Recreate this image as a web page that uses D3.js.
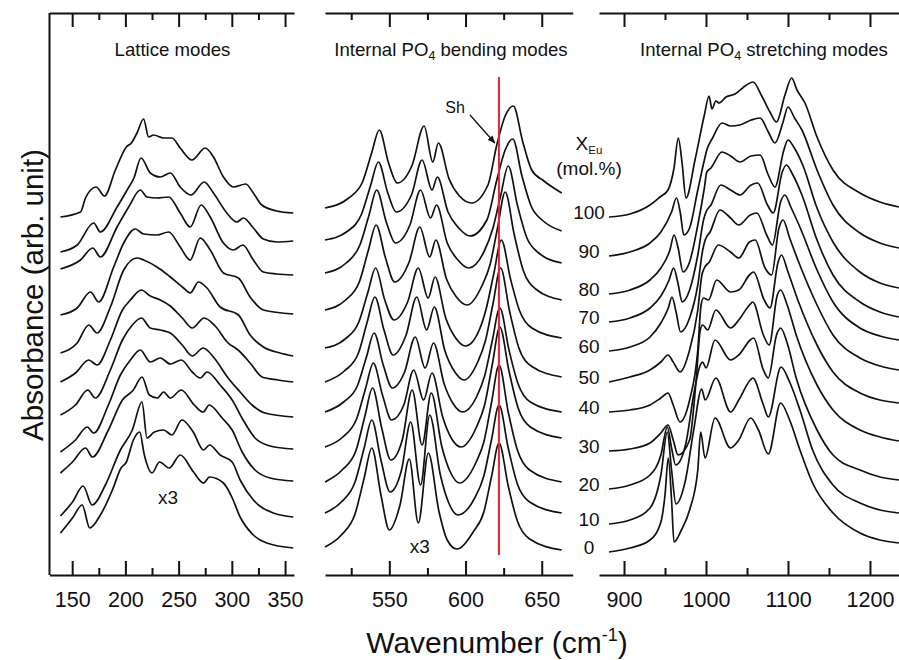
<!DOCTYPE html>
<html>
<head>
<meta charset="utf-8">
<script src="https://cdn.jsdelivr.net/npm/d3@7"></script>
<style>
  body { margin: 0; background: #fff; }
  text { font-family: "Liberation Sans", Arial, sans-serif; fill: #111; }
</style>
</head>
<body>
<svg id="chart" width="899" height="660"></svg>
<script>
// Eu content of each sample, top trace first
const compositions = [100, 90, 80, 70, 60, 50, 40, 30, 20, 10, 0];

const latticeTicks = [150, 200, 250, 300, 350];
const latticeMinor = [175, 225, 275, 325];
const bendingTicks = [550, 600, 650];
const bendingMinor = [525, 575, 625];
const stretchTicks = [900, 1000, 1100, 1200];
const stretchMinor = [950, 1050, 1150];

// position of the red marker line (cm-1)
const markerWn = 621.9;

// lattice modes, [wavenumber, absorbance (stacked, arb. unit)]
const latticeSpectra = [
  [[139,3.58],[157.8,3.63],[162.5,3.77],[172.5,3.88],[180.3,3.79],[190.6,4.05],[200.9,4.28],[205.6,4.32],[210.9,4.42],[217.1,4.56],[221.8,4.38],[226.5,4.40],[235.9,4.37],[243.7,4.37],[251.5,4.27],[262.5,4.15],[275,4.27],[282.7,4.18],[292.1,3.98],[301.5,3.88],[313.1,3.91],[320.2,3.82],[328.1,3.70],[342.2,3.64],[357.7,3.62]],
  [[139,3.23],[154.7,3.30],[170.2,3.52],[176.5,3.43],[192.2,3.68],[201.6,3.85],[208,3.97],[214.7,4.17],[223.4,4.02],[232.8,3.98],[242.2,4.02],[251.5,3.88],[261.6,3.80],[274,3.93],[282.7,3.82],[295.3,3.62],[304.7,3.53],[310.9,3.57],[320.2,3.47],[329.6,3.36],[342.2,3.33],[357.7,3.34]],
  [[139,3.06],[157.8,3.15],[169.3,3.27],[176.5,3.18],[192.2,3.48],[203.1,3.68],[214,3.85],[220.3,3.78],[229.7,3.77],[240.6,3.78],[251.5,3.62],[260.9,3.48],[271.2,3.70],[279.7,3.58],[292.1,3.32],[301.5,3.25],[310.3,3.30],[320.2,3.15],[329.6,3.03],[342.2,3.01],[357.7,3.00]],
  [[139,2.60],[154.7,2.67],[167.2,2.83],[174.9,2.73],[189,3.08],[198.4,3.32],[209.3,3.46],[217.1,3.41],[229.7,3.40],[240.6,3.43],[251.5,3.28],[260.9,3.15],[270.3,3.37],[279.7,3.25],[292.1,3.02],[306.2,2.97],[317.2,2.78],[329.6,2.65],[357.7,2.61]],
  [[139,2.22],[154.7,2.32],[165.6,2.50],[173.4,2.42],[185.9,2.68],[198.4,3.05],[210.9,3.17],[217.1,3.15],[229.7,3.08],[242.2,2.98],[254.6,2.87],[260.9,2.82],[268.7,2.93],[276.6,2.87],[289,2.68],[306.2,2.60],[317.2,2.40],[329.6,2.28],[345.3,2.22],[357.7,2.19]],
  [[139,1.93],[153.1,2.02],[165.6,2.15],[173.4,2.10],[185.9,2.35],[197.2,2.65],[204.7,2.75],[215,2.85],[223.4,2.79],[232.8,2.75],[242.2,2.69],[253.4,2.57],[262.8,2.47],[274,2.57],[284.3,2.49],[296.5,2.32],[305.9,2.25],[317.2,2.12],[328.4,1.98],[343.4,1.95],[357.7,1.93]],
  [[139,1.60],[153.1,1.70],[164.6,1.85],[171.8,1.77],[185.9,2.05],[197.2,2.35],[206.5,2.50],[215,2.57],[223.4,2.47],[232.8,2.45],[242.2,2.42],[253.4,2.30],[262.8,2.19],[273.1,2.27],[283.4,2.17],[296.5,1.97],[307.8,1.83],[319,1.70],[331.2,1.62],[357.7,1.58]],
  [[139,1.23],[153.1,1.35],[164.1,1.48],[170.2,1.42],[184,1.70],[195.3,2.00],[204.7,2.15],[214,2.25],[223.4,2.13],[232.8,2.17],[242.2,2.11],[252.5,2.15],[262.8,2.03],[270.3,1.97],[276.8,2.03],[289,1.90],[300.3,1.75],[310.6,1.55],[321.8,1.37],[335.9,1.29],[357.7,1.26]],
  [[139,1.02],[150.3,1.13],[162.5,1.27],[169,1.18],[184,1.45],[197.2,1.75],[207.5,1.85],[215.6,1.98],[222.5,1.80],[230,1.77],[235.9,1.83],[242.2,1.77],[252.5,1.85],[264.7,1.70],[273.1,1.63],[278.7,1.70],[290.9,1.57],[300.3,1.45],[309.7,1.23],[321.8,1.05],[335.9,0.97],[357.7,0.94]],
  [[139,0.59],[150.3,0.73],[160.3,0.89],[168.7,0.70],[181.2,0.90],[195.3,1.25],[206.5,1.45],[215.6,1.73],[220.3,1.37],[227.2,1.43],[235.9,1.45],[243.7,1.40],[253.1,1.55],[263.7,1.43],[273.4,1.25],[279,1.30],[289,1.20],[300.3,1.13],[307.8,0.95],[320.2,0.75],[339,0.62],[357.7,0.58]],
  [[139,0.42],[150.3,0.57],[159.4,0.70],[166.5,0.47],[176.5,0.60],[187.8,0.85],[195.9,1.07],[200.9,1.13],[207.5,1.35],[213.4,1.43],[217.8,1.20],[225,1.02],[232.1,1.13],[241.2,1.07],[251.5,1.20],[264,1.03],[273.4,0.92],[279,0.98],[292.1,0.92],[300,0.78],[307.8,0.58],[320.2,0.40],[332.8,0.32],[357.7,0.27]]
];

// internal PO4 bending modes
const bendingSpectra = [
  [[507.8,3.67],[523.4,3.77],[532.4,3.93],[538.4,4.22],[543.4,4.45],[549.5,4.12],[555.2,3.92],[565,4.10],[572.8,4.49],[578.5,4.13],[582.2,4.32],[589.2,3.96],[596,3.79],[604,3.72],[614.7,3.90],[620.5,4.30],[626,4.59],[631.4,4.69],[637.4,4.34],[643.4,4.05],[651.4,3.94],[663.1,3.82]],
  [[507.8,3.35],[522.8,3.44],[531.8,3.61],[537.8,3.90],[542.8,4.13],[549,3.82],[554.5,3.63],[564.5,3.80],[571.5,4.15],[578,3.85],[581.5,3.98],[588.5,3.63],[595.5,3.47],[603,3.39],[614,3.55],[620.5,3.95],[626,4.25],[631,4.36],[637,3.99],[643,3.69],[651,3.54],[663.1,3.44]],
  [[507.8,3.02],[521.7,3.12],[530.7,3.30],[536.7,3.60],[541.7,3.85],[548,3.53],[554,3.32],[563.5,3.50],[570.5,3.85],[577,3.57],[581,3.70],[588,3.32],[595,3.15],[602,3.07],[612,3.23],[618,3.47],[623,3.79],[628,4.09],[634,3.70],[640,3.38],[648,3.22],[663.1,3.12]],
  [[507.8,2.65],[521.3,2.75],[530.3,2.93],[536.3,3.25],[541.3,3.50],[547.5,3.17],[553.5,2.93],[563,3.13],[570,3.48],[576.5,3.18],[580.5,3.35],[587.5,2.96],[594,2.78],[601,2.70],[611,2.90],[616,3.10],[621,3.47],[626,3.83],[632,3.40],[638,3.04],[646,2.86],[663.1,2.75]],
  [[507.8,2.27],[521,2.36],[530,2.53],[536,2.83],[541,3.07],[547,2.75],[553,2.55],[562,2.73],[569,3.07],[575.5,2.77],[580,2.98],[587,2.57],[593.5,2.37],[600,2.29],[609,2.45],[613.5,2.66],[618.5,3.01],[623.5,3.35],[629.5,2.96],[635.5,2.64],[643.5,2.47],[663.1,2.37]],
  [[507.8,1.93],[520.5,2.04],[529.5,2.21],[535.5,2.53],[540.5,2.78],[546.5,2.45],[552.5,2.20],[561,2.40],[568,2.78],[574.5,2.45],[579.5,2.68],[586.5,2.24],[593,2.03],[599,1.95],[608,2.13],[613,2.34],[618,2.71],[623,3.07],[629,2.63],[635,2.27],[643,2.09],[663.1,1.98]],
  [[507.8,1.63],[520,1.73],[529,1.89],[535,2.18],[540,2.42],[546,2.10],[552,1.87],[560,2.03],[567,2.38],[573.5,2.07],[579,2.32],[586,1.91],[592,1.71],[598,1.63],[607.5,1.79],[612.5,1.99],[617.5,2.34],[622.5,2.67],[628.5,2.25],[634.5,1.91],[642.5,1.73],[663.1,1.63]],
  [[507.8,1.28],[519.5,1.38],[528.5,1.56],[534.5,1.87],[539.5,2.12],[545.5,1.80],[551.5,1.55],[559.5,1.70],[566,2.05],[572.5,1.75],[578,2.02],[585,1.58],[591,1.36],[597,1.28],[607.5,1.49],[612.5,1.70],[617.5,2.10],[622.5,2.48],[628.5,2.04],[634.5,1.67],[642.5,1.48],[663.1,1.37]],
  [[507.8,0.93],[519,1.05],[528,1.24],[534,1.59],[539,1.87],[545,1.47],[551,1.15],[558.5,1.35],[565,1.85],[571.5,1.30],[577.5,1.82],[584.5,1.28],[590,1.03],[596,0.92],[607,1.13],[612,1.33],[617,1.72],[622,2.10],[628,1.63],[634,1.25],[642,1.05],[663.1,0.93]],
  [[507.8,0.62],[518.5,0.73],[527.5,0.93],[533.5,1.27],[538.5,1.55],[544.5,1.15],[550.5,0.83],[558,1.05],[564,1.53],[570.5,0.90],[576.5,1.60],[583.5,1.00],[589,0.72],[595,0.60],[606,0.77],[612,0.99],[617,1.35],[622,1.70],[628,1.27],[634,0.91],[642,0.73],[663.1,0.62]],
  [[507.8,0.28],[518.5,0.40],[527.5,0.61],[533.5,0.97],[538.5,1.27],[544.5,0.80],[550,0.45],[557,0.70],[563.1,1.16],[569,0.52],[575.6,1.22],[582.5,0.64],[588,0.35],[594.2,0.26],[605,0.43],[612,0.63],[617,0.98],[622,1.32],[628,0.89],[634,0.54],[642,0.36],[663.1,0.25]]
];

// internal PO4 stretching modes
const stretchSpectra = [
  [[881.7,3.58],[907.3,3.61],[931.7,3.70],[943.9,3.78],[953.7,3.85],[961,4.07],[966.2,4.37],[970.7,4.13],[975.6,3.77],[986.6,4.15],[998,4.60],[1003.7,4.79],[1007.3,4.66],[1012,4.74],[1016,4.72],[1024.4,4.78],[1035.4,4.81],[1047.6,4.89],[1057.3,4.93],[1068,4.79],[1078,4.63],[1086,4.53],[1096.3,4.80],[1104.5,4.97],[1111,4.85],[1120.7,4.72],[1135.4,4.38],[1154.9,4.05],[1187.8,3.82],[1212.2,3.73],[1235.4,3.68]],
  [[881.7,3.19],[907.3,3.23],[931.7,3.32],[945,3.43],[958,3.63],[964,3.77],[968.5,3.63],[973,3.40],[980,3.47],[990,3.85],[998,4.15],[1001,4.25],[1008,4.37],[1019.5,4.52],[1030,4.49],[1041.5,4.50],[1055,4.55],[1065.9,4.57],[1076,4.43],[1084.1,4.32],[1094,4.53],[1100,4.68],[1108,4.57],[1117,4.45],[1135.4,4.05],[1154.9,3.70],[1187.8,3.42],[1212.2,3.32],[1235.4,3.27]],
  [[881.7,2.81],[907.3,2.85],[931.7,2.95],[945,3.07],[956,3.25],[961,3.40],[966,3.27],[972,3.03],[980,3.13],[990,3.50],[998,3.87],[1001,4.03],[1006,4.07],[1019.5,4.23],[1030,4.19],[1041.5,4.13],[1055,4.19],[1065.9,4.20],[1076,4.00],[1084.1,3.88],[1095,4.25],[1100,4.35],[1107,4.28],[1118,4.10],[1135.4,3.67],[1154.9,3.33],[1187.8,3.03],[1212.2,2.92],[1235.4,2.87]],
  [[881.7,2.53],[907.3,2.57],[931.7,2.67],[945,2.79],[955,2.95],[960.5,3.07],[965.5,2.93],[971,2.73],[980,2.85],[990,3.20],[997,3.55],[1000,3.63],[1006,3.70],[1018,3.90],[1030,3.85],[1041.5,3.80],[1055,3.90],[1063,3.92],[1075,3.70],[1082,3.62],[1093,4.03],[1098,4.10],[1106,4.00],[1117,3.80],[1135.4,3.35],[1154.9,3.00],[1187.8,2.73],[1212.2,2.63],[1235.4,2.58]],
  [[881.7,2.24],[907.3,2.28],[931.7,2.38],[945,2.52],[954,2.67],[958.5,2.78],[963.5,2.63],[969,2.43],[980,2.57],[990,2.90],[996,3.25],[999,3.35],[1005,3.43],[1017,3.65],[1030,3.57],[1040,3.50],[1054,3.60],[1062,3.62],[1074,3.40],[1081,3.30],[1091,3.73],[1096,3.80],[1104,3.67],[1115,3.47],[1135.4,3.05],[1154.9,2.73],[1187.8,2.47],[1212.2,2.39],[1235.4,2.35]],
  [[881.7,1.93],[907.3,1.98],[931.7,2.05],[945,2.13],[953.7,2.20],[960,2.13],[968.3,2.03],[980,2.25],[990,2.65],[995,3.00],[998,3.07],[1004,3.13],[1015,3.30],[1030,3.23],[1040,3.17],[1053,3.33],[1060,3.35],[1072,3.07],[1080,3.00],[1089,3.47],[1094,3.55],[1102,3.37],[1113,3.13],[1135.4,2.70],[1154.9,2.40],[1187.8,2.17],[1212.2,2.09],[1235.4,2.05]],
  [[881.7,1.63],[907.3,1.65],[931.7,1.70],[945,1.77],[953.7,1.82],[960,1.70],[968.3,1.53],[980,1.75],[990,2.25],[994,2.70],[997,2.77],[1003,2.75],[1013,2.95],[1030,2.83],[1040,2.85],[1053,3.00],[1058,3.03],[1071,2.75],[1078,2.67],[1088,3.13],[1092,3.20],[1100,3.03],[1112,2.75],[1135.4,2.30],[1154.9,2.03],[1187.8,1.82],[1212.2,1.75],[1235.4,1.72]],
  [[881.7,1.24],[907.3,1.26],[931.7,1.32],[945,1.42],[953.7,1.50],[960,1.35],[966,1.20],[980,1.35],[988,1.95],[993,2.45],[996,2.50],[1002,2.45],[1012,2.65],[1030,2.47],[1040,2.55],[1053,2.70],[1057,2.73],[1070,2.40],[1077,2.30],[1087,2.80],[1091,2.85],[1099,2.70],[1110,2.40],[1135.4,1.90],[1154.9,1.65],[1187.8,1.45],[1212.2,1.38],[1235.4,1.34]],
  [[881.7,0.86],[907.3,0.90],[931.7,1.00],[945,1.20],[952.8,1.48],[958,1.27],[963,1.10],[975,1.30],[986,1.85],[993,2.10],[996,2.13],[1000,2.07],[1011,2.35],[1030,2.15],[1040,2.20],[1054,2.35],[1058,2.37],[1070,2.05],[1076,1.97],[1086,2.40],[1091,2.47],[1099,2.32],[1110,1.97],[1135.4,1.45],[1154.9,1.20],[1187.8,1.05],[1212.2,0.98],[1235.4,0.95]],
  [[881.7,0.51],[907.3,0.55],[931.7,0.67],[945,1.00],[952.8,1.43],[958,1.05],[963.4,0.71],[975,0.95],[985,1.45],[994.7,1.86],[999,1.75],[1012,1.97],[1030,1.63],[1040,1.75],[1054,1.95],[1057,1.97],[1070,1.70],[1076,1.58],[1091.5,2.08],[1102,1.93],[1114.6,1.65],[1130,1.25],[1154.9,0.90],[1187.8,0.72],[1212.2,0.65],[1235.4,0.62]],
  [[881.7,0.23],[907.3,0.27],[931.7,0.35],[945,0.53],[950,0.80],[954,1.17],[958,0.75],[961,0.33],[970,0.45],[980,0.65],[990,1.05],[993.5,1.43],[998.8,1.17],[1011,1.57],[1030,1.27],[1040,1.35],[1054.5,1.57],[1064,1.45],[1076,1.21],[1091,1.72],[1102,1.55],[1114.6,1.25],[1130,0.92],[1154.9,0.62],[1187.8,0.42],[1212.2,0.35],[1235.4,0.32]]
];

const svg = d3.select("#chart");
const axisTop = 13, axisBottom = 575;

const y = d3.scaleLinear().domain([0, 5.75]).range([575, 0]);

const panels = [
  { spectra: latticeSpectra, domain: [128.7, 358.4], range: [49.5, 294], ticks: latticeTicks, minor: latticeMinor },
  { spectra: bendingSpectra, domain: [507.8, 670.3], range: [325, 572.7], ticks: bendingTicks, minor: bendingMinor },
  { spectra: stretchSpectra, domain: [869.5, 1235.4], range: [599, 899], ticks: stretchTicks, minor: stretchMinor }
];

panels.forEach(p => {
  p.x = d3.scaleLinear().domain(p.domain).range(p.range);
  const g = svg.append("g");

  const line = d3.line()
    .x(d => p.x(d[0]))
    .y(d => y(d[1]))
    .curve(d3.curveMonotoneX);

  g.append("g").selectAll("path")
    .data(p.spectra)
    .join("path")
    .attr("d", line)
    .attr("fill", "none")
    .attr("stroke", "#111")
    .attr("stroke-width", 1.7)
    .attr("stroke-linejoin", "round");

  // bottom axis, ticks pointing in
  const bottom = g.append("g")
    .attr("transform", `translate(0,${axisBottom})`)
    .call(d3.axisBottom(p.x).tickValues(p.ticks).tickFormat(d3.format("d"))
      .tickSizeInner(-14).tickSizeOuter(0).tickPadding(17));
  bottom.selectAll("text").attr("font-size", "21.5px").attr("fill", "#111")
    .style("font-family", "'Liberation Sans', Arial, sans-serif");
  g.append("g")
    .attr("transform", `translate(0,${axisBottom})`)
    .call(d3.axisBottom(p.x).tickValues(p.minor).tickSize(-7).tickFormat(""))
    .call(a => a.select(".domain").remove());

  // top axis mirror
  g.append("g")
    .attr("transform", `translate(0,${axisTop})`)
    .call(d3.axisTop(p.x).tickValues(p.ticks).tickSizeInner(-14).tickSizeOuter(0).tickFormat(""));
  g.append("g")
    .attr("transform", `translate(0,${axisTop})`)
    .call(d3.axisTop(p.x).tickValues(p.minor).tickSize(-7).tickFormat(""))
    .call(a => a.select(".domain").remove());

  g.selectAll(".domain, .tick line").attr("stroke", "#111").attr("stroke-width", 2);
});

// left axis line of the first panel
svg.append("line")
  .attr("x1", 49.5).attr("x2", 49.5)
  .attr("y1", axisTop).attr("y2", axisBottom)
  .attr("stroke", "#111").attr("stroke-width", 2);

// panel titles
function title(xc, label, sub, rest) {
  const t = svg.append("text")
    .attr("x", xc).attr("y", 56)
    .attr("text-anchor", "middle")
    .attr("font-size", "18.6px")
    .text(label);
  if (sub) {
    t.append("tspan").attr("font-size", "12.5px").attr("dy", 4).text(sub);
    t.append("tspan").attr("dy", -4).text(rest);
  }
}
title(172.5, "Lattice modes");
title(451, "Internal PO", "4", " bending modes");
title(764, "Internal PO", "4", " stretching modes");

// red marker line in the bending panel
const xb = panels[1].x;
svg.append("line")
  .attr("x1", xb(markerWn)).attr("x2", xb(markerWn))
  .attr("y1", 77).attr("y2", 555)
  .attr("stroke", "#e3262a").attr("stroke-width", 2);

// shoulder annotation
svg.append("defs").append("marker")
  .attr("id", "arrow")
  .attr("viewBox", "0 0 10 10")
  .attr("refX", 9).attr("refY", 5)
  .attr("markerWidth", 8).attr("markerHeight", 8)
  .attr("markerUnits", "userSpaceOnUse")
  .attr("orient", "auto")
  .append("path").attr("d", "M0,1 L10,5 L0,9 Z").attr("fill", "#111");
const shTip = [xb(620.5), y(4.30)];
svg.append("line")
  .attr("x1", 470).attr("y1", 115)
  .attr("x2", shTip[0] - 2).attr("y2", shTip[1] - 2)
  .attr("stroke", "#111").attr("stroke-width", 1.3)
  .attr("marker-end", "url(#arrow)");
svg.append("text")
  .attr("x", 455).attr("y", 113)
  .attr("text-anchor", "middle").attr("font-size", "16px")
  .text("Sh");

// scale factor notes
svg.append("text").attr("x", panels[0].x(240)).attr("y", 504)
  .attr("text-anchor", "middle").attr("font-size", "19px").text("x3");
svg.append("text").attr("x", xb(570)).attr("y", 553)
  .attr("text-anchor", "middle").attr("font-size", "19px").text("x3");

// composition labels beside the stretching traces
svg.append("g").selectAll("text")
  .data(compositions)
  .join("text")
  .attr("x", 589)
  .attr("y", (d, i) => y(stretchSpectra[i][0][1]) - 5)
  .attr("dominant-baseline", "central")
  .attr("text-anchor", "middle")
  .attr("font-size", "19px")
  .text(d => d);

const xeu = svg.append("text").attr("x", 589).attr("y", 150)
  .attr("text-anchor", "middle").attr("font-size", "19px").text("X");
xeu.append("tspan").attr("font-size", "11.5px").attr("dy", 4).text("Eu");
svg.append("text").attr("x", 589).attr("y", 175)
  .attr("text-anchor", "middle").attr("font-size", "19px").text("(mol.%)");

// axis titles
svg.append("text")
  .attr("transform", "translate(43,295) rotate(-90)")
  .attr("text-anchor", "middle")
  .attr("font-size", "29.5px")
  .text("Absorbance (arb. unit)");

const xt = svg.append("text")
  .attr("x", 497).attr("y", 653)
  .attr("text-anchor", "middle")
  .attr("font-size", "30px")
  .text("Wavenumber (cm");
xt.append("tspan").attr("font-size", "18px").attr("dy", -12).text("-1");
xt.append("tspan").attr("dy", 12).text(")");
</script>
</body>
</html>
